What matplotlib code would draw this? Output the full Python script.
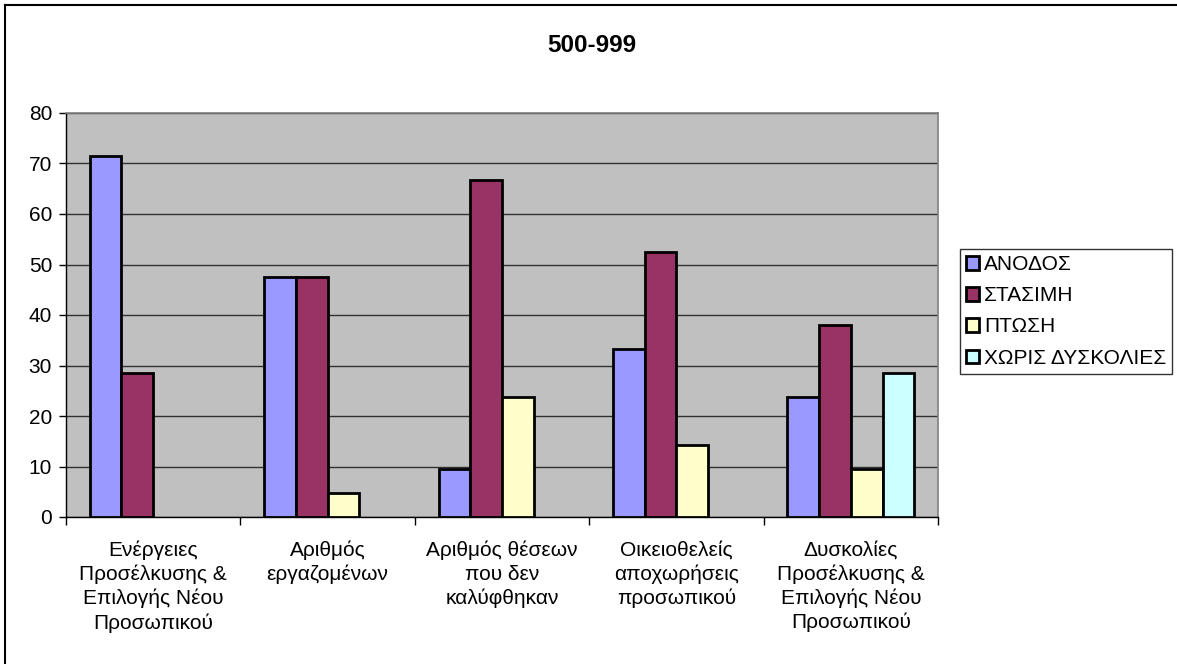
import matplotlib
matplotlib.use("Agg")
import matplotlib.pyplot as plt
import numpy as np
from matplotlib.patches import Patch
from matplotlib.lines import Line2D

plt.rcParams['font.family'] = ['Liberation Sans', 'DejaVu Sans']

nan = float("nan")
title = "500-999"
categories = [
    "Ενέργειες\nΠροσέλκυσης &\nΕπιλογής Νέου\nΠροσωπικού",
    "Αριθμός\nεργαζομένων",
    "Αριθμός θέσεων\nπου δεν\nκαλύφθηκαν",
    "Οικειοθελείς\nαποχωρήσεις\nπροσωπικού",
    "Δυσκολίες\nΠροσέλκυσης &\nΕπιλογής Νέου\nΠροσωπικού",
]
series_names = ["ΑΝΟΔΟΣ", "ΣΤΑΣΙΜΗ", "ΠΤΩΣΗ", "ΧΩΡΙΣ ΔΥΣΚΟΛΙΕΣ"]
anodos = [71.4, 47.6, 9.5, 33.3, 23.8]
stasimi = [28.6, 47.6, 66.7, 52.4, 38.1]
ptosi = [nan, 4.8, 23.8, 14.3, 9.5]
xoris = [nan, nan, nan, nan, 28.6]
colors = ["#9999FF", "#993366", "#FFFFCC", "#CCFFFF"]
yticks = [0, 10, 20, 30, 40, 50, 60, 70, 80]

W, H = 1177, 664
fig = plt.figure(figsize=(W / 100, H / 100), dpi=100)
ax = fig.add_axes([66 / W, (H - 517) / H, 872 / W, 404 / H])
ax.set_facecolor("#C0C0C0")

data = [anodos, stasimi, ptosi, xoris]
x = np.arange(1, len(categories) + 1)
bw = 1 / 5.5
for i, (vals, c, name) in enumerate(zip(data, colors, series_names)):
    ax.bar(x + (i - 1.5) * bw, vals, width=bw, color=c, edgecolor="black",
           linewidth=2, zorder=3, label=name)

ax.set_xlim(0.5, len(categories) + 0.5)
ax.set_ylim(0, 80)
ax.set_yticks(yticks)
ax.set_yticklabels([str(v) for v in yticks], fontsize=15)
ax.yaxis.grid(True, color="#000000", linewidth=1, alpha=0.75, zorder=1)
ax.set_axisbelow(True)
ax.tick_params(axis="y", direction="out", length=5, width=1, pad=5)

ax.set_xticks(x)
ax.set_xticklabels(categories, fontsize=15, linespacing=1.3, va="top")
ax.tick_params(axis="x", which="major", length=0, pad=17)
ax.set_xticks(np.arange(0.5, len(categories) + 1, 1), minor=True)
ax.tick_params(axis="x", which="minor", direction="out", length=6, width=1)

for s in ["top", "right"]:
    ax.spines[s].set_color("#808080")
    ax.spines[s].set_linewidth(1.2)
for s in ["left", "bottom"]:
    ax.spines[s].set_color("black")
    ax.spines[s].set_linewidth(1)

fig.text(592 / W, 1 - 45 / H, title, ha="center", va="center",
         fontsize=17.5, fontweight="bold")

handles = [Patch(facecolor=c, edgecolor="black", linewidth=2) for c in colors]
leg = fig.legend(handles, series_names, loc="upper left",
                 bbox_to_anchor=(960 / W, 1 - 249 / H), fontsize=15,
                 frameon=True, fancybox=False, edgecolor="black",
                 handlelength=0.6, handleheight=0.6, handletextpad=0.25,
                 borderpad=0.3, labelspacing=0.58, borderaxespad=0)
leg.get_frame().set_linewidth(1)

# outer chart border (top and left visible)
fig.add_artist(Line2D([5 / W, 5 / W], [0, 1 - 5 / H], color="black", linewidth=1.5,
                      transform=fig.transFigure))
fig.add_artist(Line2D([5 / W, 1], [1 - 5 / H, 1 - 5 / H], color="black", linewidth=1.5,
                      transform=fig.transFigure))

fig.savefig("out.png", dpi=100, facecolor="white")
